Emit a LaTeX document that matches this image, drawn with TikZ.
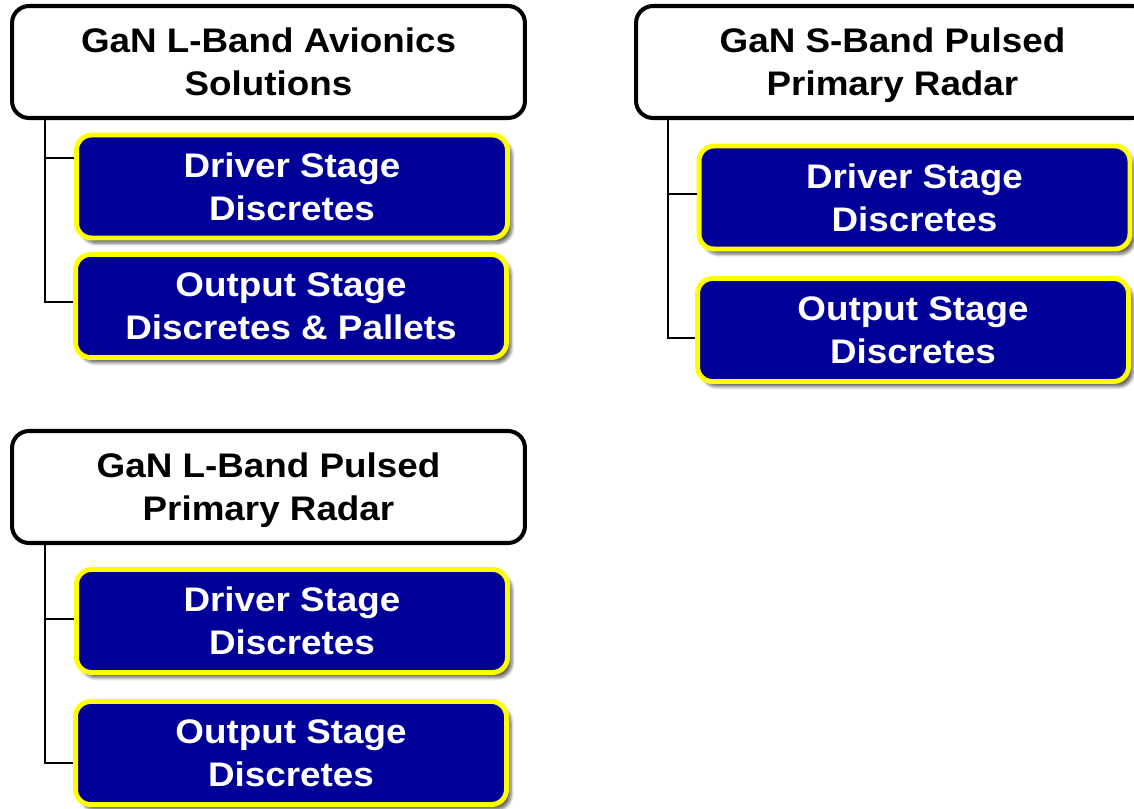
\documentclass[tikz,border=0pt]{standalone}
\usepackage{fontspec}
\usepackage{xcolor}
\usepackage{tikz}
\usetikzlibrary{calc,shadows.blur}
\newfontfamily\diagfont{Liberation Sans}[FakeStretch=1.08]
\newcommand{\nodepth}[1]{\raisebox{0pt}[\height][0pt]{#1}}
\definecolor{ganBlue}{RGB}{0,0,153}
\definecolor{ganYellow}{RGB}{255,255,0}

\begin{document}
\begin{tikzpicture}[x=0.02cm, y=-0.02cm,
  headBox/.style={draw=black, fill=white, line width=2.3pt, rounded corners=0.34cm,
    minimum width=10.26cm, minimum height=2.24cm, inner sep=0pt, align=center,
    font=\diagfont\bfseries\fontsize{19.4}{24.4}\selectfont},
  stageBox/.style={draw=ganYellow, fill=ganBlue, text=white, line width=2.8pt,
    rounded corners=0.3cm, minimum width=8.62cm, minimum height=2.06cm,
    inner sep=0pt, align=center,
    blur shadow={shadow xshift=2.6pt, shadow yshift=-3pt, shadow blur steps=6, shadow opacity=60},
    font=\diagfont\bfseries\fontsize{19.4}{24.4}\selectfont},
  trunk/.style={draw=black, line width=1.15pt}]
\useasboundingbox (0,0) rectangle (1134,809);
\clip (0,0) rectangle (1134,809);

\node[headBox] (lav) at (268.5,62) {GaN L-Band Avionics\\Solutions};
\node[stageBox] (lavDrv) at (292,186.5) {Driver Stage\\Discretes};
\node[stageBox] (lavOut) at (291,306) {Output Stage\\Discretes \& Pallets};

\node[headBox] (spr) at (892.5,62) {GaN S-Band Pulsed\\\nodepth{Primary Radar}};
\node[stageBox] (sprDrv) at (914.5,197.5) {Driver Stage\\Discretes};
\node[stageBox] (sprOut) at (913,330) {Output Stage\\Discretes};

\node[headBox] (lpr) at (268.5,487) {GaN L-Band Pulsed\\\nodepth{Primary Radar}};
\node[stageBox] (lprDrv) at (292,621) {Driver Stage\\Discretes};
\node[stageBox] (lprOut) at (291,753) {Output Stage\\Discretes};

\coordinate (lavJa) at (45,158);
\coordinate (lavJb) at (45,302);
\coordinate (sprJa) at (668,194);
\coordinate (sprJb) at (668,338);
\coordinate (lprJa) at (45,619);
\coordinate (lprJb) at (45,763);

\draw[trunk] (lav.south -| lavJb) -- (lavJb) -- (lavJb -| lavOut.west);
\draw[trunk] (lavJa) -- (lavJa -| lavDrv.west);
\draw[trunk] (spr.south -| sprJb) -- (sprJb) -- (sprJb -| sprOut.west);
\draw[trunk] (sprJa) -- (sprJa -| sprDrv.west);
\draw[trunk] (lpr.south -| lprJb) -- (lprJb) -- (lprJb -| lprOut.west);
\draw[trunk] (lprJa) -- (lprJa -| lprDrv.west);
\end{tikzpicture}
\end{document}
